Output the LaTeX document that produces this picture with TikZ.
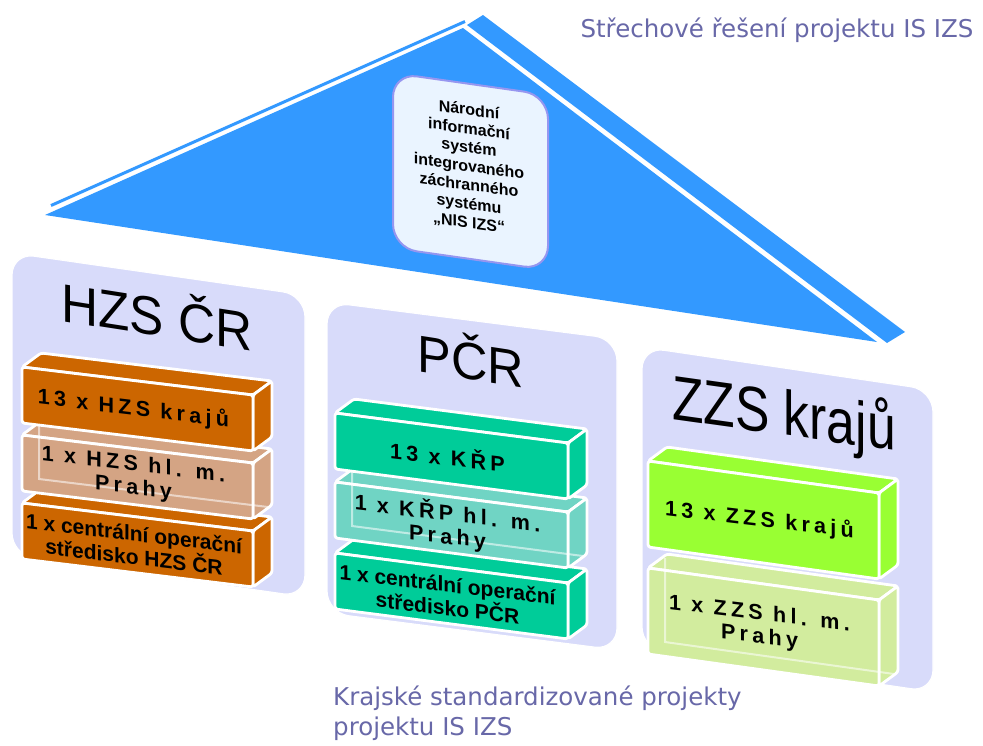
\documentclass[tikz,border=0pt]{standalone}
\usepackage{fontspec}
\setmainfont{Liberation Sans}
\newfontfamily\capfont{DejaVu Sans}
\newfontfamily\spacedfont[LetterSpace=20]{Liberation Sans}
\definecolor{roofblue}{RGB}{51,153,255}
\definecolor{panelc}{RGB}{216,219,250}
\definecolor{orangec}{RGB}{204,102,0}
\definecolor{orangel}{RGB}{212,164,132}
\definecolor{greenc}{RGB}{0,204,153}
\definecolor{greenl}{RGB}{112,212,196}
\definecolor{limec}{RGB}{153,255,51}
\definecolor{limel}{RGB}{210,236,158}
\definecolor{nisfill}{RGB}{234,244,255}
\definecolor{nisdraw}{RGB}{150,150,240}
\definecolor{capc}{RGB}{104,104,168}
\tikzset{
  roofpart/.style={fill=roofblue, draw=none},
  panel/.style={fill=panelc, draw=white, line width=1.2pt, rounded corners=22pt},
  face/.style={draw=white, line width=2.8pt, rounded corners=2.5pt, line join=round},
  backedge/.style={draw=white, draw opacity=0.55, line width=2pt},
  bigtitle/.style={font=\fontsize{54}{60}\selectfont, inner sep=0pt, anchor=base},
  spacedtext/.style={font=\spacedfont\bfseries\fontsize{21.5}{23}\selectfont, align=center, inner sep=0pt, yslant=-0.12},
  boldtext/.style={font=\bfseries\fontsize{21}{23.5}\selectfont, align=center, inner sep=0pt, yslant=-0.12},
  captext/.style={font=\capfont\fontsize{24.5}{30}\selectfont, text=capc, inner sep=0pt, anchor=base west},
}
% #1 L, #2 T, #3 W, #4 H, #5 dyW, #6 colour
\newcommand\drawbar[6]{%
  \path[face, fill=#6] (#1,#2) -- ({#1+19},{#2-14}) -- ({#1+#3+19},{#2+#5-14}) -- ({#1+#3},{#2+#5}) -- cycle;
  \path[face, fill=#6] ({#1+#3},{#2+#5}) -- ({#1+#3+19},{#2+#5-14}) -- ({#1+#3+19},{#2+#5+#4-14}) -- ({#1+#3},{#2+#5+#4}) -- cycle;
  \path[face, fill=#6] (#1,#2) -- ({#1+#3},{#2+#5}) -- ({#1+#3},{#2+#5+#4}) -- (#1,{#2+#4}) -- cycle;
}
\newcommand\glassedges[5]{%
  \draw[backedge] ({#1+17},{#2-10}) -- ({#1+17},{#2+#4-12}) -- ({#1+#3+15},{#2+#5+#4-12});
}
\begin{document}
\begin{tikzpicture}[x=1pt,y=-1pt]
\useasboundingbox[fill=white] (0,0) rectangle (983,745);
% roof
\path[roofpart] (45,215) -- (463,28) -- (877,342) -- cycle;
\path[roofpart] (467,25) -- (483,15) -- (905,332) -- (887,343) -- cycle;
\draw[roofblue, line width=3pt] (51,205.5) -- (465,21.5);
% central box
\path[fill=nisfill, draw=nisdraw, line width=2pt, rounded corners=24pt]
  (393,73) -- (548,95) -- (548,270) -- (393,248) -- cycle;
\node[font=\bfseries\fontsize{16}{18.8}\selectfont, align=center, inner sep=0pt, yslant=-0.14] (nis) at (469,167)
  {Národní\\informační\\systém\\integrovaného\\záchranného\\systému\\„NIS IZS“};
% panels
\path[panel] (12,253) -- (305,295) -- (305,597) -- (12,555) -- cycle;
\path[panel] (327,302) -- (617,339) -- (617,650) -- (327,613) -- cycle;
\path[panel] (642,347) -- (933,390) -- (933,692) -- (642,649) -- cycle;
\node[bigtitle, xscale=0.95, yslant=-0.148] (hzs) at (157,336) {HZS ČR};
\node[bigtitle, font=\fontsize{52}{60}\selectfont, xscale=0.97, yslant=-0.15] (pcr) at (471,380) {PČR};
\node[bigtitle, font=\fontsize{63}{70}\selectfont, xscale=0.82, yslant=-0.115] (zzs) at (784,435) {ZZS krajů};
% HZS bars
\drawbar{22}{503}{231}{56}{28}{orangec}
\drawbar{22}{435}{231}{56}{28}{orangel}
\glassedges{22}{435}{231}{56}{28}
\drawbar{22}{367}{231}{56}{28}{orangec}
% PCR bars
\drawbar{335}{553}{233}{56}{30}{greenc}
\drawbar{335}{482}{233}{56}{30}{greenl}
\glassedges{335}{482}{233}{56}{30}
\drawbar{335}{413}{233}{56}{30}{greenc}
% ZZS bars
\drawbar{648}{568}{231}{86}{32}{limel}
\glassedges{648}{568}{231}{86}{32}
\drawbar{648}{461}{231}{86}{32}{limec}
% bar texts
\node[spacedtext] (h1) at (133.5,409) {13 x HZS krajů};
\node[spacedtext] (h2) at (133.5,477) {1 x HZS hl. m.\\Prahy};
\node[boldtext] (h3) at (134,545) {1 x centrální operační\\středisko HZS ČR};
\node[spacedtext] (p1) at (447.5,456) {13 x KŘP};
\node[spacedtext] (p2) at (447.5,525) {1 x KŘP hl. m.\\Prahy};
\node[boldtext] (p3) at (447.5,596) {1 x centrální operační\\středisko PČR};
\node[spacedtext] (z1) at (759.5,520) {13 x ZZS krajů};
\node[spacedtext] (z2) at (759.5,626) {1 x ZZS hl. m.\\Prahy};
% captions
\node[captext, anchor=base] (cap1) at (777,37) {Střechové řešení projektu IS IZS};
\node[captext] (cap2a) at (333,705) {Krajské standardizované projekty};
\node[captext] (cap2b) at (333,735) {projektu IS IZS};
\end{tikzpicture}
\end{document}
